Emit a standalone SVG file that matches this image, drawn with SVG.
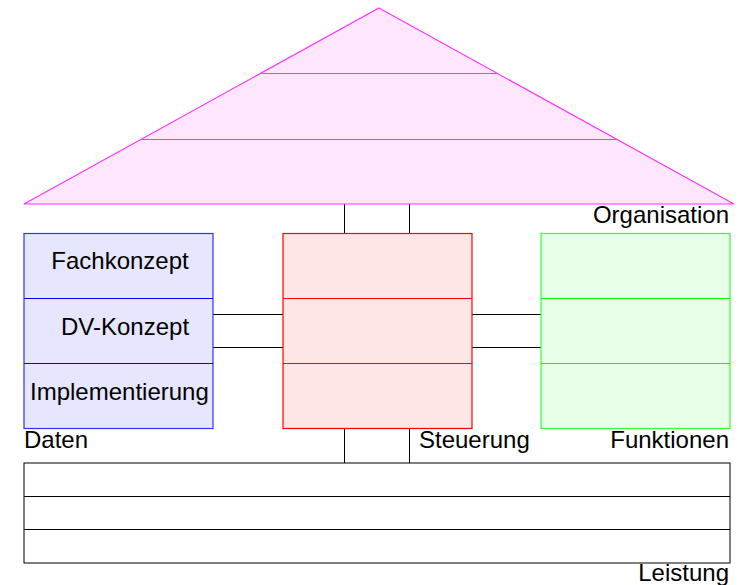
<svg xmlns="http://www.w3.org/2000/svg" width="740" height="585" viewBox="0 0 740 585">
<style>
text{font-family:"Liberation Sans",Arial,sans-serif;font-size:24px;fill:#000}
.c{stroke:#000;stroke-width:1;fill:none}
.org{fill:#ffe6ff;stroke:#ff33ff;stroke-width:1.2}
.orgl{stroke:#ff33ff;stroke-width:1.2}
.dat{fill:#e6e6ff;stroke:#3333ff;stroke-width:1.2}
.datl{stroke:#0000ff;stroke-width:1.2}
.st{fill:#ffe6e6;stroke:#ff0000;stroke-width:1.2}
.stl{stroke:#ff0000;stroke-width:1.2}
.fn{fill:#e6ffe6;stroke:#33ff33;stroke-width:1.2}
.fnl{stroke:#00ff00;stroke-width:1.2}
.le{fill:#fff;stroke:#000;stroke-width:1}
</style>
<g id="connectors">
<line class="c" x1="344.5" y1="204" x2="344.5" y2="233"/>
<line class="c" x1="409.5" y1="204" x2="409.5" y2="233"/>
<line class="c" x1="213" y1="314.5" x2="283" y2="314.5"/>
<line class="c" x1="213" y1="347.5" x2="283" y2="347.5"/>
<line class="c" x1="472" y1="314.5" x2="541" y2="314.5"/>
<line class="c" x1="472" y1="347.5" x2="541" y2="347.5"/>
<line class="c" x1="344.5" y1="428" x2="344.5" y2="463"/>
<line class="c" x1="409.5" y1="428" x2="409.5" y2="463"/>
</g>
<g id="organisation">
<polygon class="org" points="379,8 734,204 24,204"/>
<line class="orgl" x1="261.5" y1="73.5" x2="496.5" y2="73.5"/>
<line class="orgl" x1="142" y1="139.5" x2="616" y2="139.5"/>
<text x="729" y="223" text-anchor="end">Organisation</text>
</g>
<g id="daten">
<rect class="dat" x="24" y="233.5" width="189" height="195"/>
<line class="datl" x1="24" y1="298.5" x2="213" y2="298.5"/>
<line class="datl" x1="24" y1="363.5" x2="213" y2="363.5"/>
<text x="120" y="269" text-anchor="middle">Fachkonzept</text>
<text x="61" y="335">DV-Konzept</text>
<text x="30" y="400">Implementierung</text>
<text x="24" y="448">Daten</text>
</g>
<g id="steuerung">
<rect class="st" x="283" y="233.5" width="189" height="195"/>
<line class="stl" x1="283" y1="298.5" x2="472" y2="298.5"/>
<line class="stl" x1="283" y1="363.5" x2="472" y2="363.5"/>
<text x="419" y="448">Steuerung</text>
</g>
<g id="funktionen">
<rect class="fn" x="541" y="233.5" width="189" height="195"/>
<line class="fnl" x1="541" y1="298.5" x2="730" y2="298.5"/>
<line class="fnl" x1="541" y1="363.5" x2="730" y2="363.5"/>
<text x="729" y="448" text-anchor="end">Funktionen</text>
</g>
<g id="leistung">
<rect class="le" x="24" y="463" width="706" height="100"/>
<line class="c" x1="24" y1="496.5" x2="730" y2="496.5"/>
<line class="c" x1="24" y1="529.5" x2="730" y2="529.5"/>
<text x="729" y="581" text-anchor="end">Leistung</text>
</g>
</svg>
